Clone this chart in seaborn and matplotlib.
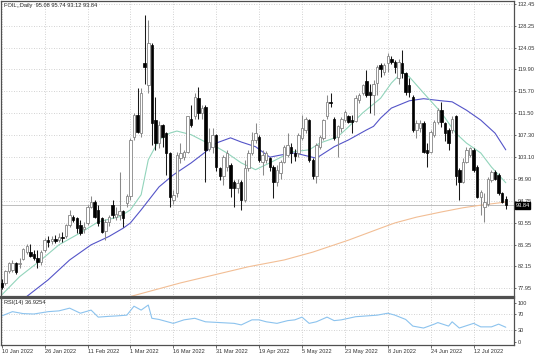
import numpy as np
import pandas as pd
import matplotlib
matplotlib.use("Agg")
import matplotlib.pyplot as plt
import matplotlib.transforms as mtrans
import seaborn as sns

# ---------------- data ----------------
date_labels = ["10 Jan 2022", "26 Jan 2022", "11 Feb 2022", "1 Mar 2022", "16 Mar 2022",
               "31 Mar 2022", "19 Apr 2022", "5 May 2022", "23 May 2022", "8 Jun 2022",
               "24 Jun 2022", "12 Jul 2022"]
date_label_bars = [0, 12, 24, 36, 48, 60, 72, 84, 96, 108, 120, 132]

price_ticks = [132.45, 128.25, 124.05, 119.90, 115.70, 111.50, 107.30, 103.10,
               98.90, 94.75, 90.55, 86.35, 82.15, 77.95]
rsi_ticks = [100, 70, 30, 0]

opens = [78.9, 78.9, 81.2, 81.4, 82.9, 82.6, 83.5, 84.9, 85.0, 84.5,
         83.7, 83.1, 85.3, 87.2, 87.0, 87.4, 87.2, 87.8, 87.9, 90.1,
         91.6, 91.4, 90.1, 89.4, 90.4, 93.6, 94.6, 92.9, 91.4, 89.0,
         90.7, 94.0, 91.6, 92.0, 92.7, 94.3, 95.6, 107.0, 111.2, 107.7,
         121.2, 117.0, 124.6, 110.2, 105.8, 109.3, 107.7, 103.8, 94.9, 96.2,
         102.9, 103.2, 104.1, 110.5, 110.9, 114.4, 111.5, 112.8, 104.6, 105.1,
         107.3, 101.0, 99.4, 101.3, 101.6, 98.4, 97.1, 98.4, 94.9, 101.0,
         103.8, 106.4, 107.0, 102.2, 102.6, 102.9, 101.3, 98.4, 100.0, 102.2,
         103.6, 105.1, 103.8, 103.8, 106.7, 108.3, 110.2, 102.6, 99.4, 105.1,
         106.7, 111.0, 113.7, 110.5, 107.0, 108.6, 110.2, 111.0, 110.3, 110.0,
         114.1, 115.3, 117.6, 115.6, 115.0, 117.4, 120.8, 119.5, 121.1, 122.0,
         121.4, 118.2, 121.1, 119.2, 116.9, 114.7, 108.3, 108.6, 109.6, 104.5,
         104.1, 107.3, 109.9, 112.1, 109.6, 108.3, 108.3, 110.9, 100.6, 98.4,
         102.2, 103.5, 104.5, 101.3, 95.5, 93.6, 94.2, 98.7, 100.3, 99.7,
         96.2, 95.08]
highs = [79.7, 81.5, 83.1, 83.3, 83.1, 83.8, 85.65, 86.5, 86.5, 85.3,
         85.3, 85.3, 87.6, 88.0, 87.9, 88.2, 88.6, 88.8, 90.3, 93.0,
         92.0, 91.7, 91.1, 90.7, 93.9, 95.7, 94.9, 93.9, 91.7, 91.2,
         92.0, 94.9, 93.6, 100.3, 93.0, 96.0, 106.7, 111.5, 116.3, 116.3,
         130.3, 129.4, 124.9, 114.7, 110.0, 109.5, 108.0, 104.1, 96.8, 104.1,
         105.8, 104.5, 111.0, 113.1, 115.3, 116.6, 113.0, 113.1, 108.6, 108.6,
         107.6, 101.3, 103.5, 104.5, 101.9, 98.7, 98.9, 98.7, 102.6, 104.5,
         108.0, 109.6, 107.3, 104.5, 104.3, 103.2, 101.6, 101.6, 102.6, 105.5,
         107.7, 105.8, 104.7, 107.7, 111.2, 110.8, 110.4, 102.9, 105.8, 107.3,
         110.5, 115.0, 115.3, 110.8, 109.3, 110.8, 112.2, 111.2, 111.2, 115.0,
         115.3, 117.2, 119.8, 117.2, 117.9, 120.8, 121.1, 121.2, 123.0, 122.5,
         121.8, 122.0, 123.6, 119.5, 118.2, 115.0, 110.2, 110.2, 110.0, 105.8,
         108.3, 110.2, 112.5, 113.7, 109.9, 108.6, 110.9, 111.2, 101.0, 102.9,
         105.1, 105.1, 104.9, 101.6, 96.8, 96.2, 99.3, 100.6, 100.6, 100.0,
         96.5, 95.74]
lows = [77.8, 78.6, 80.9, 81.0, 80.7, 81.9, 83.4, 84.5, 83.9, 83.4,
        81.8, 82.5, 85.0, 85.95, 86.5, 86.7, 86.8, 86.9, 87.6, 89.8,
        90.7, 88.5, 88.2, 88.5, 90.1, 93.3, 91.4, 90.0, 88.5, 87.2,
        89.9, 91.4, 91.1, 91.1, 89.8, 93.6, 94.9, 106.4, 107.7, 107.0,
        117.2, 115.3, 105.4, 104.5, 104.8, 105.1, 99.7, 93.6, 94.1, 95.5,
        101.9, 102.5, 103.8, 108.9, 110.5, 110.5, 110.5, 98.4, 104.2, 103.8,
        100.5, 98.7, 97.8, 100.5, 95.5, 93.6, 96.2, 93.0, 94.6, 100.5,
        103.5, 105.8, 102.2, 99.7, 101.9, 100.4, 95.2, 97.6, 99.0, 101.9,
        103.2, 101.9, 102.4, 103.2, 106.4, 107.7, 102.2, 99.0, 98.1, 104.6,
        106.4, 110.5, 112.8, 106.4, 103.2, 108.0, 109.8, 109.6, 107.7, 109.8,
        113.5, 115.0, 114.7, 111.5, 111.2, 115.0, 118.5, 118.8, 119.4, 121.0,
        119.2, 117.2, 118.2, 115.0, 114.7, 108.0, 106.7, 108.0, 103.8, 101.3,
        103.8, 107.0, 109.5, 108.9, 106.1, 104.5, 107.7, 97.8, 94.9, 98.1,
        101.9, 103.2, 100.3, 95.2, 92.0, 90.6, 93.8, 98.3, 98.7, 95.8,
        94.3, 93.12]
closes = [78.3, 81.2, 82.8, 82.9, 81.0, 82.9, 85.45, 86.0, 84.2, 83.7,
          83.1, 85.0, 87.2, 86.9, 87.5, 87.1, 87.8, 87.7, 90.1, 92.0,
          91.1, 89.5, 88.5, 89.7, 93.6, 94.6, 91.7, 90.4, 88.8, 90.7,
          91.6, 92.0, 92.3, 92.7, 91.4, 95.6, 106.3, 111.2, 108.0, 115.3,
          120.4, 124.9, 109.6, 105.8, 109.3, 107.0, 103.8, 95.5, 95.9, 103.5,
          103.8, 104.1, 110.9, 109.3, 114.7, 111.5, 112.5, 104.5, 106.0, 107.3,
          101.3, 99.4, 103.2, 103.8, 97.1, 97.1, 98.1, 94.9, 101.0, 103.8,
          106.4, 107.7, 102.6, 103.5, 103.8, 101.3, 98.4, 100.6, 102.2, 105.1,
          105.4, 103.8, 103.3, 107.3, 108.6, 110.5, 102.6, 99.4, 105.4, 107.0,
          110.2, 113.7, 113.4, 106.7, 109.0, 110.5, 111.8, 109.9, 109.8, 114.4,
          115.0, 116.9, 115.0, 115.0, 117.2, 120.3, 119.9, 120.8, 122.4, 121.4,
          120.4, 121.4, 119.2, 115.6, 115.6, 108.3, 109.6, 109.6, 104.1, 103.8,
          108.0, 109.9, 112.1, 109.9, 107.7, 105.8, 110.5, 99.4, 98.4, 102.2,
          104.5, 104.9, 100.6, 95.5, 96.5, 94.6, 99.0, 100.3, 99.0, 96.2,
          94.6, 93.84]

ma_fast_bar = [0, 5, 11, 16, 22, 27, 33, 36, 39, 41, 44, 47, 49, 53, 57, 60, 63, 67, 71,
               75, 81, 86, 89, 94, 97, 101, 106, 109, 112, 114, 118, 123, 127, 130, 134, 137, 141]
ma_fast = [76.7, 80.2, 83.4, 86.3, 88.6, 90.7, 91.7, 93.0, 95.9, 102.6, 106.4, 107.7, 108.1,
           107.4, 106.0, 105.1, 103.9, 102.0, 100.7, 102.0, 104.1, 104.5, 105.8, 107.0, 108.9,
           111.6, 114.4, 117.3, 119.4, 118.5, 115.4, 111.6, 107.7, 105.8, 103.9, 101.2, 98.2]

ma_slow_bar = [7, 13, 19, 25, 30, 34, 36, 39, 44, 48, 53, 57, 60, 64, 67, 71, 75, 78, 82, 88,
               93, 97, 102, 104, 106, 109, 114, 118, 123, 126, 130, 134, 138, 141]
ma_slow = [76.4, 79.6, 83.4, 86.3, 87.9, 89.5, 90.5, 93.0, 97.4, 99.7, 102.0, 104.1, 105.8,
           106.8, 106.0, 105.1, 103.1, 103.5, 103.9, 102.9, 105.1, 106.4, 108.3, 109.0, 110.6,
           112.5, 113.9, 114.3, 113.9, 113.7, 112.1, 110.2, 107.7, 104.5]

ma_long_bar = [36, 50, 69, 79, 87, 97, 106, 110, 116, 123, 129, 134, 141]
ma_long = [76.4, 79.0, 82.1, 83.4, 84.9, 87.2, 89.5, 90.5, 91.6, 92.6, 93.4, 93.9, 94.5]

rsi_bar = [0, 3, 6, 9, 13, 16, 19, 22, 25, 27, 30, 32, 35, 37, 39, 41, 42, 44, 48, 51, 54, 57,
           61, 65, 67, 70, 72, 74, 77, 80, 82, 84, 86, 88, 91, 93, 95, 99, 102, 105, 108, 110,
           113, 115, 118, 121, 122, 125, 126, 128, 132, 134, 137, 139, 141]
rsi = [66, 77, 72, 71, 77, 79, 86, 73, 81, 63, 65, 66, 68, 91, 81, 94, 60, 57, 47, 56, 60, 51,
       49, 47, 43, 56, 56, 51, 47, 54, 56, 63, 47, 51, 63, 54, 56, 64, 66, 68, 73, 68,
       57, 40, 35, 45, 49, 40, 51, 35, 47, 38, 38, 45, 37]

header = "FOIL,,Daily  95.08 95.74 93.12 93.84"
rsi_title = "RSI(14) 36.9254"
last_price = 93.84

# ---------------- style ----------------
sns.set_theme(style="white")
FONT = ["Liberation Sans", "DejaVu Sans"]
plt.rcParams["font.family"] = FONT
FS = 4.1

W, H = 536, 355
fig = plt.figure(figsize=(W / 100, H / 100), dpi=100)
fig.patch.set_facecolor("white")
ax = fig.add_axes([1 / W, 1 - 296.5 / H, 513 / W, 295.5 / H])
axr = fig.add_axes([1 / W, 1 - 345 / H, 513 / W, 47.5 / H], sharex=ax)

df = pd.DataFrame({"bar": np.arange(len(closes)), "open": opens, "high": highs,
                   "low": lows, "close": closes})
up = df[df["close"] >= df["open"]]
dn = df[df["close"] < df["open"]]

grid_kw = dict(color="#c4c4c4", lw=0.6, ls=(0, (1, 2)))
for a in (ax, axr):
    a.set_facecolor("white")
    for b in date_label_bars:
        a.axvline(b, zorder=0, **grid_kw)
for p in price_ticks:
    ax.axhline(p, zorder=0, **grid_kw)
for r in (70, 30):
    axr.axhline(r, zorder=0, **grid_kw)

# current price line
ax.axhline(last_price, color="#bdbdbd", lw=0.7, zorder=1)

# moving averages
sns.lineplot(x=ma_long_bar, y=ma_long, ax=ax, color="#f2be95", lw=0.8, zorder=2)
sns.lineplot(x=ma_slow_bar, y=ma_slow, ax=ax, color="#5454c8", lw=0.8, zorder=2)
sns.lineplot(x=ma_fast_bar, y=ma_fast, ax=ax, color="#92d4bb", lw=0.8, zorder=2)

# candles
bw = 0.68
ax.vlines(up["bar"], up["low"], up["high"], color="#8a8a8a", lw=0.75, zorder=3)
ax.vlines(dn["bar"], dn["low"], dn["high"], color="#1a1a1a", lw=0.75, zorder=3)
ax.bar(up["bar"], np.maximum(up["close"] - up["open"], 0.12), bottom=up["open"], width=bw,
       color="white", edgecolor="#858585", linewidth=0.6, zorder=4)
ax.bar(dn["bar"], dn["open"] - dn["close"], bottom=dn["close"], width=bw,
       color="black", edgecolor="black", linewidth=0.5, zorder=4)

# RSI
sns.lineplot(x=rsi_bar, y=rsi, ax=axr, color="#8cc3ee", lw=0.8)

# axes limits
ax.set_xlim(-0.2, 143.3)
ax.set_ylim(76.4, 133.02)
axr.set_ylim(-8.5, 113.3)

# ticks
ax.yaxis.tick_right()
ax.set_yticks(price_ticks)
ax.set_yticklabels([f"{p:.2f}" for p in price_ticks], fontsize=FS, color="#222222")
ax.tick_params(axis="y", right=True, length=1.5, width=0.5, pad=1.0, colors="#333333")
ax.tick_params(axis="x", bottom=False, labelbottom=False)

axr.yaxis.tick_right()
axr.set_yticks(rsi_ticks)
axr.set_yticklabels([str(r) for r in rsi_ticks], fontsize=FS, color="#222222")
axr.tick_params(axis="y", right=True, length=1.5, width=0.5, pad=1.0, colors="#333333")
axr.set_xticks(date_label_bars)
axr.set_xticklabels(date_labels, fontsize=FS, color="#222222")
for lbl in axr.get_xticklabels():
    lbl.set_ha("left")
axr.tick_params(axis="x", bottom=True, length=2, width=0.5, pad=1.0, colors="#333333")
ax.set_xlabel("")
ax.set_ylabel("")
axr.set_xlabel("")
axr.set_ylabel("")

for a in (ax, axr):
    for s in a.spines.values():
        s.set_color("#505050")
        s.set_linewidth(0.9)
ax.spines["bottom"].set_linewidth(1.6)
axr.spines["top"].set_linewidth(1.6)

# texts
ax.text(0.006, 0.992, header, transform=ax.transAxes, ha="left", va="top",
        fontsize=FS, color="#222222")
axr.text(0.006, 0.95, rsi_title, transform=axr.transAxes, ha="left", va="top",
         fontsize=FS, color="#222222")
tr = mtrans.blended_transform_factory(ax.transAxes, ax.transData)
ax.text(1.003, last_price, f"{last_price:.2f}", transform=tr, ha="left", va="center",
        fontsize=FS, color="white", clip_on=False,
        bbox=dict(boxstyle="square,pad=0.12", fc="black", ec="black"))

fig.savefig("out.png", dpi=100, facecolor="white")
